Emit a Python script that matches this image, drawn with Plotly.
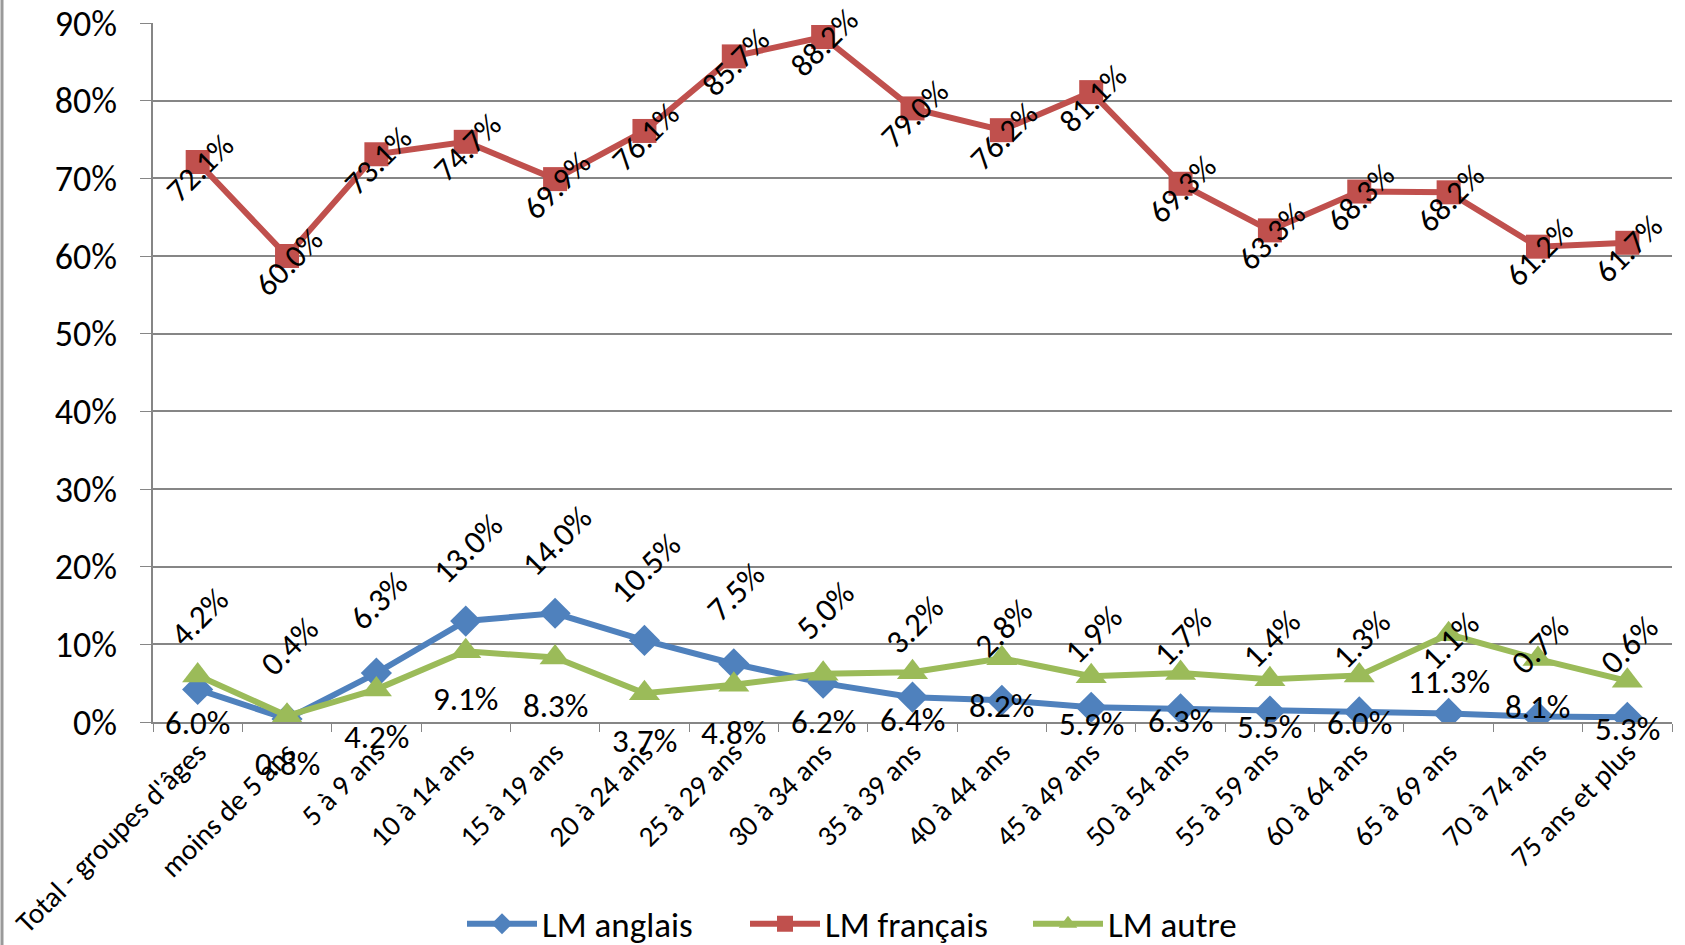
import plotly.graph_objects as go

categories = ["Total - groupes d'âges", "moins de 5 ans", "5 à 9 ans", "10 à 14 ans",
              "15 à 19 ans", "20 à 24 ans", "25 à 29 ans", "30 à 34 ans", "35 à 39 ans",
              "40 à 44 ans", "45 à 49 ans", "50 à 54 ans", "55 à 59 ans", "60 à 64 ans",
              "65 à 69 ans", "70 à 74 ans", "75 ans et plus"]
lm_anglais = [4.2, 0.4, 6.3, 13.0, 14.0, 10.5, 7.5, 5.0, 3.2, 2.8, 1.9, 1.7, 1.4, 1.3, 1.1, 0.7, 0.6]
lm_francais = [72.1, 60.0, 73.1, 74.7, 69.9, 76.1, 85.7, 88.2, 79.0, 76.2, 81.1, 69.3, 63.3, 68.3, 68.2, 61.2, 61.7]
lm_autre = [6.0, 0.8, 4.2, 9.1, 8.3, 3.7, 4.8, 6.2, 6.4, 8.2, 5.9, 6.3, 5.5, 6.0, 11.3, 8.1, 5.3]
y_ticks = [0, 10, 20, 30, 40, 50, 60, 70, 80, 90]

FONT = "Carlito, Lato, 'Open Sans', sans-serif"
BLUE, RED, GREEN = "#4F81BD", "#C0504D", "#9BBB59"

W, H = 1685, 945
L, R, T, B = 153, 13, 23, 223

fig = go.Figure()
fig.add_trace(go.Scatter(x=categories, y=[v / 100 for v in lm_anglais], name="LM anglais",
                         mode="lines+markers", line=dict(color=BLUE, width=6),
                         marker=dict(symbol="diamond", size=24, color=BLUE)))
fig.add_trace(go.Scatter(x=categories, y=[v / 100 for v in lm_francais], name="LM français",
                         mode="lines+markers", line=dict(color=RED, width=6),
                         marker=dict(symbol="square", size=24, color=RED)))
fig.add_trace(go.Scatter(x=categories, y=[v / 100 for v in lm_autre], name="LM autre",
                         mode="lines+markers", line=dict(color=GREEN, width=6),
                         marker=dict(symbol="triangle-up", size=27, color=GREEN)))

LBL = 33
ann = []
for c, v in zip(categories, lm_anglais):
    ann.append(dict(x=c, y=v / 100, text=f"{v:.1f}%", showarrow=False, textangle=-45,
                    xanchor="center", yanchor="middle", xshift=2, yshift=72,
                    font=dict(family=FONT, size=LBL, color="#000000")))
for c, v in zip(categories, lm_francais):
    ann.append(dict(x=c, y=v / 100, text=f"{v:.1f}%", showarrow=False, textangle=-45,
                    xanchor="center", yanchor="middle", xshift=2, yshift=-6,
                    font=dict(family=FONT, size=32, color="#000000")))
for c, v in zip(categories, lm_autre):
    ann.append(dict(x=c, y=v / 100, text=f"{v:.1f}%", showarrow=False,
                    xanchor="center", yanchor="middle", xshift=0, yshift=-48,
                    font=dict(family=FONT, size=LBL, color="#000000")))

pw = W - L - R
ph = H - T - B
fig.update_layout(
    width=W, height=H,
    margin=dict(l=L, r=R, t=T, b=B, autoexpand=False),
    paper_bgcolor="white", plot_bgcolor="white",
    font=dict(family=FONT, size=28, color="#000000"),
    showlegend=True,
    legend=dict(orientation="h", x=(462 - L) / pw, xanchor="left",
                y=(H - B - 924) / ph, yanchor="middle",
                font=dict(family=FONT, size=35, color="#000000"),
                itemwidth=70, entrywidth=198, entrywidthmode="pixels",
                tracegroupgap=0),
    annotations=ann,
    shapes=[dict(type="line", xref="paper", yref="paper",
                 x0=-(L - 2) / pw, x1=-(L - 2) / pw, y0=-(B) / ph, y1=(ph + T) / ph,
                 line=dict(color="#9a9a9a", width=3))],
)
fig.update_xaxes(type="category", showgrid=False, showline=True, linecolor="#868686",
                 linewidth=1.5, ticks="outside", ticklen=8, tickcolor="#868686",
                 tickson="boundaries", tickangle=-45, automargin=False,
                 tickfont=dict(family=FONT, size=29, color="#000000"),
                 range=[-0.5, len(categories) - 0.5])
fig.update_yaxes(range=[0, 0.9], tickvals=[t / 100 for t in y_ticks],
                 ticktext=[f"{t}%" for t in y_ticks], automargin=False,
                 showgrid=True, gridcolor="#868686", gridwidth=1.5,
                 showline=True, linecolor="#868686", linewidth=1.5,
                 ticks="outside", ticklen=11, tickcolor="#868686",
                 ticklabelstandoff=16,
                 tickfont=dict(family=FONT, size=36, color="#000000"),
                 zeroline=False)

fig.write_html("out.html", config={"displayModeBar": False},
               post_script="document.body.style.margin='0';")
